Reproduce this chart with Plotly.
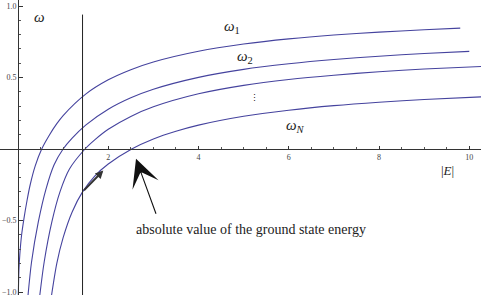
import plotly.graph_objects as go

# ---- data ----
E1 = [0.005, 0.02, 0.04, 0.08, 0.13, 0.2, 0.27, 0.38, 0.525, 0.7, 0.86, 1.0, 1.5, 2.0, 2.5, 3.0, 4.0, 5.0, 6.0, 7.0, 8.0, 9.0, 9.8]
W1 = [-1.05, -0.85, -0.74, -0.60, -0.49, -0.36, -0.25, -0.12, 0.0, 0.10, 0.177, 0.234, 0.384, 0.484, 0.555, 0.609, 0.684, 0.734, 0.770, 0.797, 0.817, 0.834, 0.845]

E2 = [0.22, 0.30, 0.45, 0.62, 0.80, 1.00, 1.2, 1.5, 2.0, 2.5, 3.0, 4.0, 5.0, 6.0, 7.0, 8.0, 9.0, 10.0]
W2 = [-1.03, -0.79, -0.51, -0.28, -0.11, 0.0, 0.076, 0.167, 0.278, 0.358, 0.418, 0.501, 0.557, 0.596, 0.626, 0.649, 0.668, 0.683]

E3 = [0.48, 0.58, 0.75, 0.93, 1.14, 1.485, 1.7, 2.0, 2.5, 3.0, 4.0, 5.0, 6.0, 7.0, 8.0, 9.0, 10.3]
W3 = [-1.03, -0.79, -0.51, -0.30, -0.14, 0.0, 0.064, 0.138, 0.228, 0.295, 0.386, 0.445, 0.486, 0.516, 0.540, 0.559, 0.578]

E4 = [0.74, 0.86, 1.0, 1.2, 1.43, 1.7, 2.0, 2.52, 3.0, 3.5, 4.0, 5.0, 6.0, 7.0, 8.0, 9.0, 10.3]
W4 = [-1.03, -0.80, -0.62, -0.44, -0.30, -0.189, -0.105, 0.0, 0.07, 0.124, 0.167, 0.229, 0.271, 0.303, 0.327, 0.346, 0.365]

ground_E = 1.43
ground_line_W = [-1.05, 0.94]

x_ticks = [2, 4, 6, 8, 10]
x_ticktext = ["2", "4", "6", "8", "10"]
y_ticks = [-1.0, -0.5, 0.5, 1.0]
y_ticktext = ["\u22121.0", "\u22120.5", "0.5", "1.0"]

curve_labels = ["<i>\u03c9</i><sub>1</sub>", "<i>\u03c9</i><sub>2</sub>", "\u22ee", "<i>\u03c9</i><sub><i>N</i></sub>"]
curve_label_pos = [(4.74, 0.85), (5.03, 0.64), (5.23, 0.36), (6.14, 0.16)]

# ---- figure ----
X_RANGE = [-0.399, 10.26]
Y_RANGE = [-1.021, 1.042]
CURVE_COLOR = "#45439e"
SERIF = "Liberation Serif, Times New Roman, serif"

fig = go.Figure()
for E, W in [(E1, W1), (E2, W2), (E3, W3), (E4, W4)]:
    fig.add_trace(go.Scatter(x=E, y=W, mode="lines",
                             line=dict(color=CURVE_COLOR, width=1.1, shape="spline", smoothing=0.8),
                             showlegend=False, hoverinfo="skip"))

fig.add_trace(go.Scatter(x=[ground_E, ground_E], y=ground_line_W, mode="lines",
                         line=dict(color="#222222", width=1), showlegend=False, hoverinfo="skip"))

x0_paper = (0 - X_RANGE[0]) / (X_RANGE[1] - X_RANGE[0])
y0_paper = (0 - Y_RANGE[0]) / (Y_RANGE[1] - Y_RANGE[0])

minor_x = [v * 0.5 for v in range(1, 21) if (v * 0.5) not in x_ticks]
minor_y = [round(v * 0.1, 1) for v in range(-10, 11) if round(v * 0.1, 1) not in y_ticks and v != 0]

fig.update_layout(
    width=481, height=297,
    margin=dict(l=0, r=0, t=0, b=0),
    paper_bgcolor="white", plot_bgcolor="white",
    showlegend=False,
    xaxis=dict(range=X_RANGE, showgrid=False, zeroline=False, showline=True,
               linecolor="#333333", linewidth=1, anchor="free", position=y0_paper,
               ticks="inside", ticklen=3, tickcolor="#333333",
               tickvals=x_ticks, ticktext=x_ticktext, ticklabeloverflow="allow",
               tickfont=dict(family=SERIF, size=8, color="#444444"),
               minor=dict(tickvals=minor_x, ticks="inside", ticklen=2, tickcolor="#555555")),
    yaxis=dict(range=Y_RANGE, showgrid=False, zeroline=False, showline=True,
               linecolor="#333333", linewidth=1, anchor="free", position=x0_paper,
               ticks="inside", ticklen=4, tickcolor="#333333",
               tickvals=y_ticks, ticktext=y_ticktext, ticklabeloverflow="allow",
               tickfont=dict(family=SERIF, size=8, color="#444444"),
               minor=dict(tickvals=minor_y, ticks="inside", ticklen=2, tickcolor="#555555")),
)

annotations = []
annotations.append(dict(x=0.47, y=0.92, xref="x", yref="y", text="<i>\u03c9</i>", showarrow=False,
                        font=dict(family=SERIF, size=15, color="#222222")))
for txt, (lx, ly) in zip(curve_labels, curve_label_pos):
    annotations.append(dict(x=lx, y=ly, xref="x", yref="y", text=txt, showarrow=False,
                            font=dict(family=SERIF, size=15 if txt != "\u22ee" else 9, color="#222222")))
annotations.append(dict(x=9.51, y=-0.153, xref="x", yref="y", text="|<i>E</i>|", showarrow=False,
                        font=dict(family=SERIF, size=13, color="#222222")))
annotations.append(dict(x=2.58, y=-0.56, xref="x", yref="y", text="absolute value of the ground state energy",
                        xanchor="left", showarrow=False,
                        font=dict(family=SERIF, size=14, color="#222222")))
# large arrow
annotations.append(dict(x=2.615, y=-0.069, ax=3.07, ay=-0.463, xref="x", yref="y", axref="x", ayref="y",
                        text="", showarrow=True, arrowhead=3, arrowsize=4.2, arrowwidth=1.1,
                        arrowcolor="#111111", standoff=0, startstandoff=0))
# small arrow along the lowest curve
annotations.append(dict(x=1.89, y=-0.15, ax=ground_E, ay=-0.30, xref="x", yref="y", axref="x", ayref="y",
                        text="", showarrow=True, arrowhead=2, arrowsize=0.8, arrowwidth=2,
                        arrowcolor="#333333", standoff=0, startstandoff=0))
fig.update_layout(annotations=annotations)

fig.write_html("out.html")
